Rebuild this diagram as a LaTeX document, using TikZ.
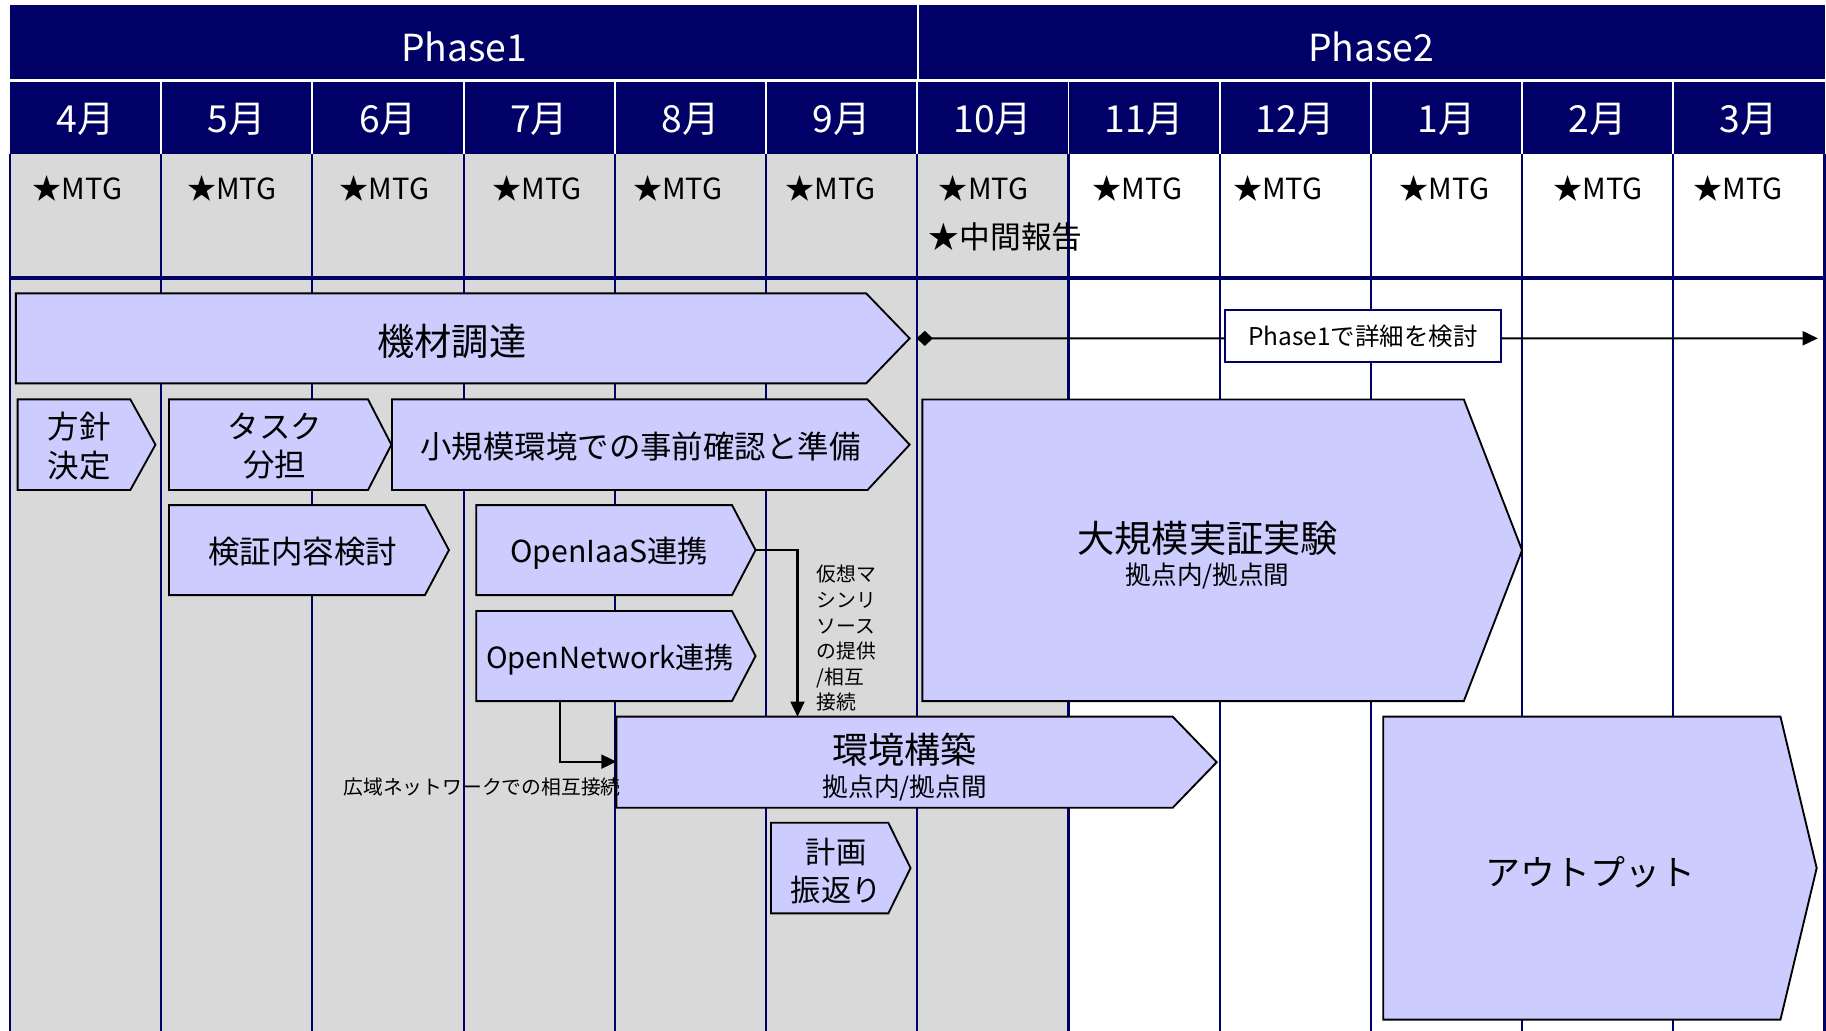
\documentclass[tikz,border=0pt]{standalone}
\usepackage{fontspec}
\setmainfont{Noto Sans CJK JP}
\usetikzlibrary{arrows.meta}
\definecolor{navy}{RGB}{0,0,102}
\definecolor{lav}{RGB}{204,204,255}
\definecolor{gbg}{RGB}{217,217,217}
\newcommand\mychev[6]{%
  \draw[chev] (#2,#3) -- (#4,#3) -- (#5,{(#3+#6)/2}) -- (#4,#6) -- (#2,#6) -- cycle;
  \coordinate (#1-tip) at (#5,{(#3+#6)/2});}
\begin{document}
\begin{tikzpicture}[x=0.5pt,y=-0.5pt,
  chev/.style={draw=black,fill=lav,line width=0.8pt,line join=miter},
  colline/.style={draw=navy,line width=0.9pt},
  conn/.style={draw=black,line width=0.9pt,-{Triangle[length=6.5pt,width=6pt]}},
  txt/.style={inner sep=0pt,align=center},
  hdr/.style={txt,text=white,font=\fontsize{16}{19}\selectfont},
  mtg/.style={inner sep=0pt,anchor=west,font=\fontsize{12.5}{15}\selectfont},
  big/.style={txt,font=\fontsize{16}{19}\selectfont},
  mid/.style={txt,font=\fontsize{13.5}{16.5}\selectfont},
  sub/.style={txt,font=\fontsize{11}{13}\selectfont},
  small/.style={inner sep=0pt,align=left,font=\fontsize{8.5}{11}\selectfont}]
\useasboundingbox (0,0) rectangle (1568,885);
% backgrounds
\fill[white] (0,0) rectangle (1568,885);
\fill[gbg] (8.6,132.2) rectangle (918.4,885);
\fill[navy] (8.6,4.3) rectangle (1566.7,132.2);
\draw[white,line width=1.2pt] (8.6,69) -- (1566.7,69);
\draw[white,line width=1pt] (788.4,4.3) -- (788.4,69);
\foreach \k in {1,...,11}{
  \pgfmathsetmacro\xx{8.6+129.84*\k}
  \draw[white,line width=0.8pt] (\xx,69) -- (\xx,132.2);
  \draw[colline] (\xx,132.2) -- (\xx,885);
}
\draw[colline] (8.6,132.2) -- (8.6,885);
\draw[colline] (1566.7,132.2) -- (1566.7,885);
\draw[navy,line width=1.5pt] (8.6,238.5) -- (1566.7,238.5);
% header text
\node[hdr] (phase1) at (398.5,40) {Phase1};
\node[hdr] (phase2) at (1177.5,40) {Phase2};
\foreach \m [count=\i from 0] in {4月,5月,6月,7月,8月,9月,10月,11月,12月,1月,2月,3月}{
  \pgfmathsetmacro\xc{8.6+129.84*\i+64.92}
  \node[hdr] (month\i) at (\xc,102.5) {\m};
}
\foreach \xm [count=\i from 0] in {27.7,160.3,291.3,422.3,543.3,674.3,805.9,937.8,1058.4,1201.5,1333.4,1453.6}{
  \node[mtg] (mtg\i) at (\xm,162) {★MTG};
}
\node[mtg,font=\fontsize{13.2}{15}\selectfont] (chukan) at (797.3,203.5) {★中間報告};
% shapes
\mychev{kizai}{13.6}{251.9}{743.8}{781.1}{329.2}
\mychev{hoshin}{15.1}{342.9}{111.9}{133.5}{420.8}
\mychev{task}{145.1}{342.9}{316}{336.1}{420.8}
\mychev{shokibo}{336.6}{342.9}{744.9}{781.1}{420.8}
\mychev{kensho}{145.1}{433.7}{364.9}{385.5}{511}
\mychev{iaas}{409}{433.7}{628.6}{648.8}{511}
\mychev{net}{409}{524.7}{628.6}{648.8}{602}
\mychev{daikibo}{792}{343}{1257}{1307}{602}
\mychev{kankyo}{529.3}{615.4}{1007}{1044.8}{693.6}
\mychev{keikaku}{662}{706.5}{762.8}{781.9}{784.3}
\mychev{output}{1187.8}{615.4}{1528.9}{1560}{875.5}
% connectors
\coordinate (dEnd) at (1561,290.5);
\draw[line width=0.9pt,{Diamond[length=7pt,width=6.5pt]}-{Triangle[length=6.5pt,width=6pt]}] ([xshift=3pt]kizai-tip) -- (dEnd);
\node[draw=navy,fill=white,line width=0.7pt,minimum width=118.4pt,minimum height=22.2pt,inner sep=0pt,font=\fontsize{10.5}{12}\selectfont] (detail) at (1170.3,288.4) {Phase1で詳細を検討};
\coordinate (kTop) at (684.8,615.4);
\draw[conn] (iaas-tip) -| (kTop);
\coordinate (netBot) at (480.7,602);
\coordinate (kLeft) at (529.3,654);
\draw[conn] (netBot) |- (kLeft);
% texts
\node[big] (tkizai) at (388,293) {機材調達};
\node[mid] (thoshin) at (68,383) {方針\\決定};
\node[mid] (ttask) at (236,383) {タスク\\分担};
\node[mid] (tshokibo) at (550,383) {小規模環境での事前確認と準備};
\node[mid] (tkensho) at (260,474) {検証内容検討};
\node[txt,font=\fontsize{13}{16}\selectfont] (tiaas) at (523,475) {OpenIaaS連携};
\node[txt,font=\fontsize{12.5}{15}\selectfont] (tnet) at (523.8,566.5) {OpenNetwork連携};
\node[big] (tdaikibo) at (1037,462) {大規模実証実験};
\node[sub] (tdaikibo2) at (1037,494.5) {拠点内/拠点間};
\node[txt,font=\fontsize{15.5}{18}\selectfont] (tkankyo) at (777,644) {環境構築};
\node[sub] (tkankyo2) at (777,676.5) {拠点内/拠点間};
\node[txt,font=\fontsize{13}{16.5}\selectfont] (tkeikaku) at (718,748) {計画\\振返り};
\node[txt,font=\fontsize{15}{18}\selectfont] (toutput) at (1365.5,749) {アウトプット};
\node[small,anchor=north west] (lvm) at (700.7,485) {仮想マ\\シンリ\\ソース\\の提供\\/相互\\接続};
\node[txt,font=\fontsize{8.5}{11}\selectfont] (lwan) at (414,675.5) {広域ネットワークでの相互接続};
\end{tikzpicture}
\end{document}
